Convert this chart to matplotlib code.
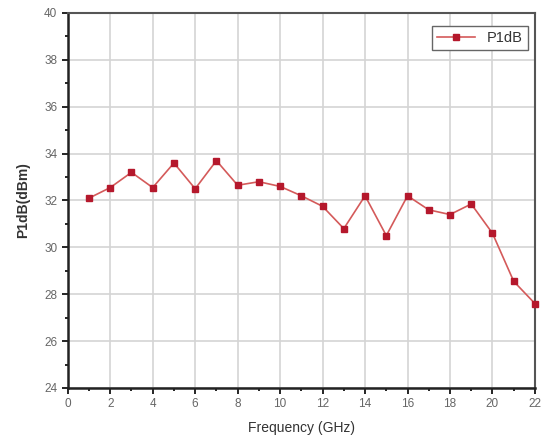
import matplotlib.pyplot as plt
import numpy as np

plt.rcParams['font.family'] = ['Liberation Sans', 'DejaVu Sans']

# P1dB vs frequency
freq = [1, 2, 3, 4, 5, 6, 7, 8, 9, 10, 11, 12, 13, 14, 15, 16, 17, 18, 19, 20, 21, 22]
p1db = [32.1, 32.55, 33.2, 32.55, 33.6, 32.5, 33.7, 32.65, 32.8, 32.6, 32.2, 31.75,
        30.8, 32.2, 30.5, 32.2, 31.6, 31.4, 31.85, 30.6, 28.55, 27.6]

fig = plt.figure(figsize=(5.42, 4.48), dpi=100)
ax = fig.add_axes([0.125, 0.134, 0.862, 0.837])

ax.plot(freq, p1db, color="#d45a5a", linewidth=1.2, marker="s", markersize=5,
        markerfacecolor="#b5182c", markeredgecolor="#b5182c", label="P1dB", clip_on=False, zorder=3)

ax.set_xlim(0, 22)
ax.set_ylim(24, 40)
ax.set_xticks(np.arange(0, 23, 2))
ax.set_yticks(np.arange(24, 41, 2))
ax.set_xticks(np.arange(0, 23, 1), minor=True)
ax.set_yticks(np.arange(24, 41, 1), minor=True)
ax.grid(True, which="major", color="#d4d4d4", linewidth=1.2)
ax.set_axisbelow(True)

ax.tick_params(which="major", direction="out", length=4, width=1.2, labelsize=8.5, labelcolor="#666666")
ax.tick_params(which="minor", direction="out", length=2, width=1.2)

for side in ["left", "bottom"]:
    ax.spines[side].set_linewidth(1.8)
    ax.spines[side].set_color("#222222")
for side in ["top", "right"]:
    ax.spines[side].set_linewidth(1.5)
    ax.spines[side].set_color("#555555")

ax.set_xlabel("Frequency (GHz)", fontsize=10, color="#333333", labelpad=8)
ax.set_ylabel("P1dB(dBm)", fontsize=10, fontweight="bold", color="#333333", labelpad=10)

leg = ax.legend(loc="upper right", fontsize=10.5, fancybox=False, framealpha=1,
                edgecolor="#666666", handlelength=2.6, borderpad=0.35,
                bbox_to_anchor=(1.0, 0.985))
for t in leg.get_texts():
    t.set_color("#333333")

fig.savefig("out.png", dpi=100)
